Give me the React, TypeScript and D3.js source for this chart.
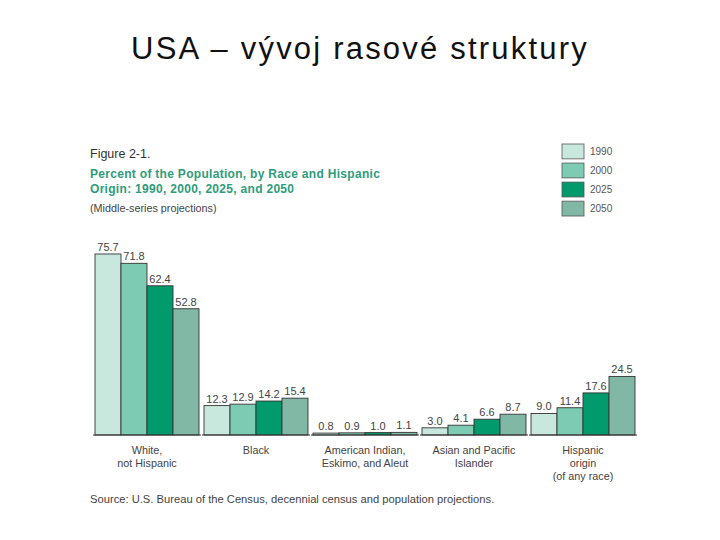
import * as d3 from 'd3';
import { useEffect, useRef } from 'react';

const categories = ['White, not Hispanic', 'Black', 'American Indian, Eskimo, and Aleut', 'Asian and Pacific Islander', 'Hispanic origin (of any race)'];
const categoryLines = [
  ['White,', 'not Hispanic'],
  ['Black'],
  ['American Indian,', 'Eskimo, and Aleut'],
  ['Asian and Pacific', 'Islander'],
  ['Hispanic', 'origin', '(of any race)'],
];
const years = ['1990', '2000', '2025', '2050'];
const values1990 = [75.7, 12.3, 0.8, 3.0, 9.0];
const values2000 = [71.8, 12.9, 0.9, 4.1, 11.4];
const values2025 = [62.4, 14.2, 1.0, 6.6, 17.6];
const values2050 = [52.8, 15.4, 1.1, 8.7, 24.5];
const colors = ['#c9e8dd', '#7ecbb3', '#009a6c', '#80b8a5'];

export default function App() {
  const svgRef = useRef<SVGSVGElement>(null);

  useEffect(() => {
    const svg = d3.select(svgRef.current);
    svg.selectAll('*').remove();
    const font = 'Liberation Sans, Arial, sans-serif';
    const series = [values1990, values2000, values2025, values2050];

    svg.append('rect').attr('width', 720).attr('height', 540).attr('fill', '#fff');

    svg.append('text')
      .attr('x', 360).attr('y', 59)
      .attr('text-anchor', 'middle')
      .attr('font-family', font).attr('font-size', 31)
      .attr('letter-spacing', 2.2)
      .attr('fill', '#111')
      .text('USA – vývoj rasové struktury');

    svg.append('text').attr('x', 90).attr('y', 158)
      .attr('font-family', font).attr('font-size', 12.5).attr('fill', '#333')
      .text('Figure 2-1.');
    svg.append('text').attr('x', 90).attr('y', 178)
      .attr('font-family', font).attr('font-size', 12).attr('letter-spacing', 0.3)
      .attr('font-weight', 'bold').attr('fill', '#2e9c7b')
      .text('Percent of the Population, by Race and Hispanic');
    svg.append('text').attr('x', 90).attr('y', 193)
      .attr('font-family', font).attr('font-size', 12).attr('letter-spacing', 0.3)
      .attr('font-weight', 'bold').attr('fill', '#2e9c7b')
      .text('Origin:  1990, 2000, 2025, and 2050');
    svg.append('text').attr('x', 90).attr('y', 212)
      .attr('font-family', font).attr('font-size', 10.8).attr('fill', '#444')
      .text('(Middle-series projections)');

    // legend
    const legend = d3.scaleBand<string>().domain(years).range([144, 216]).paddingInner(0.22);
    years.forEach((yr, i) => {
      const y = legend(yr)!;
      svg.append('rect')
        .attr('x', 562).attr('y', y).attr('width', 22).attr('height', legend.bandwidth())
        .attr('fill', colors[i]).attr('stroke', '#555').attr('stroke-width', 0.8);
      svg.append('text')
        .attr('x', 590).attr('y', y + legend.bandwidth() / 2 + 3.5)
        .attr('font-family', font).attr('font-size', 10).attr('fill', '#555')
        .text(yr);
    });

    const x0 = d3.scaleBand<string>().domain(categories).range([95, 635]).paddingInner(0.046);
    const x1 = d3.scaleBand<string>().domain(years).range([0, x0.bandwidth()]);
    const y = d3.scaleLinear().domain([0, 75.7]).range([435, 254]);

    categories.forEach((cat, ci) => {
      const gx = x0(cat)!;
      const g = svg.append('g').attr('transform', `translate(${gx},0)`);
      years.forEach((yr, si) => {
        const v = series[si][ci];
        g.append('rect')
          .attr('x', x1(yr)!).attr('y', y(v))
          .attr('width', x1.bandwidth()).attr('height', y(0) - y(v))
          .attr('fill', colors[si]).attr('stroke', '#333').attr('stroke-width', 0.9);
        g.append('text')
          .attr('x', x1(yr)! + x1.bandwidth() / 2).attr('y', y(v) - 3)
          .attr('text-anchor', 'middle')
          .attr('font-family', font).attr('font-size', 11).attr('fill', '#444')
          .text(v.toFixed(1));
      });
      g.append('line')
        .attr('x1', -2).attr('x2', x0.bandwidth() + 2)
        .attr('y1', y(0)).attr('y2', y(0))
        .attr('stroke', '#333').attr('stroke-width', 1.2);
      categoryLines[ci].forEach((ln, li) => {
        g.append('text')
          .attr('x', x0.bandwidth() / 2).attr('y', 454 + li * 13)
          .attr('text-anchor', 'middle')
          .attr('font-family', font).attr('font-size', 10.8).attr('fill', '#444')
          .text(ln);
      });
    });

    svg.append('text').attr('x', 90).attr('y', 503)
      .attr('font-family', font).attr('font-size', 11.2).attr('fill', '#444')
      .text('Source:  U.S. Bureau of the Census, decennial census and population projections.');
  }, []);

  return (
    <svg ref={svgRef} width={720} height={540} viewBox="0 0 720 540"
      style={{ position: 'absolute', left: 0, top: 0 }} />
  );
}
